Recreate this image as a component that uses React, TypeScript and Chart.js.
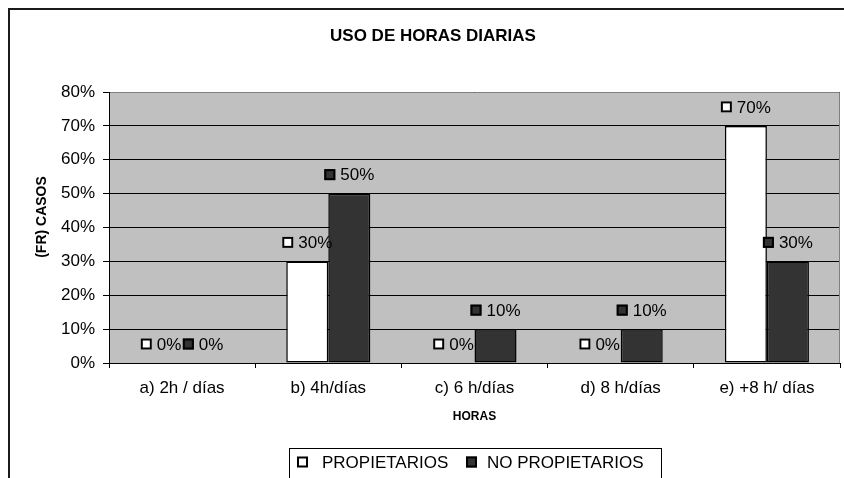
import React, { useEffect, useRef } from "react";
import { Chart, registerables } from "chart.js";

Chart.register(...registerables);

const categories = ["a) 2h / días", "b) 4h/días", "c) 6 h/días", "d) 8 h/días", "e) +8 h/ días"];
const propietarios = [0, 30, 0, 0, 70];
const noPropietarios = [0, 50, 10, 10, 30];
const seriesNames = ["PROPIETARIOS", "NO PROPIETARIOS"];
const seriesColors = ["#FFFFFF", "#333333"];
const yTicks = [0, 10, 20, 30, 40, 50, 60, 70, 80];
const titleText = "USO DE HORAS DIARIAS";
const yTitle = "(FR) CASOS";
const xTitle = "HORAS";

const FONT = "'Liberation Sans', Arial, sans-serif";

function drawKey(ctx: CanvasRenderingContext2D, x: number, yc: number, color: string) {
  ctx.save();
  ctx.fillStyle = color;
  ctx.fillRect(x, yc - 5.5, 11, 11);
  ctx.strokeStyle = "#000";
  ctx.lineWidth = 2;
  ctx.strokeRect(x + 1, yc - 4.5, 9, 9);
  ctx.restore();
}

const decorPlugin = {
  id: "decor",
  beforeDraw(chart: any) {
    const { ctx, chartArea } = chart;
    ctx.save();
    ctx.fillStyle = "#fff";
    ctx.fillRect(0, 0, chart.width, chart.height);
    ctx.strokeStyle = "#1a1a1a";
    ctx.lineWidth = 2;
    ctx.strokeRect(9, 9, 900, 600);
    ctx.fillStyle = "#C0C0C0";
    ctx.fillRect(chartArea.left, chartArea.top, chartArea.right - chartArea.left, chartArea.bottom - chartArea.top);
    ctx.restore();
  },
  afterDatasetsDraw(chart: any) {
    const { ctx, chartArea } = chart;
    ctx.save();
    ctx.strokeStyle = "#808080";
    ctx.lineWidth = 1;
    ctx.beginPath();
    ctx.moveTo(chartArea.left + 1, Math.round(chartArea.top) + 0.5);
    ctx.lineTo(Math.round(chartArea.right) - 0.5, Math.round(chartArea.top) + 0.5);
    ctx.lineTo(Math.round(chartArea.right) - 0.5, chartArea.bottom);
    ctx.stroke();

    // data labels
    ctx.font = `17px ${FONT}`;
    ctx.textBaseline = "middle";
    ctx.textAlign = "left";
    ctx.fillStyle = "#000";
    chart.data.datasets.forEach((ds: any, di: number) => {
      const meta = chart.getDatasetMeta(di);
      meta.data.forEach((bar: any, i: number) => {
        const txt = `${ds.data[i]}%`;
        const tw = ctx.measureText(txt).width;
        const total = 11 + 5 + tw;
        const x0 = bar.x - total / 2;
        const yc = bar.y - 19;
        drawKey(ctx, x0, yc, seriesColors[di]);
        ctx.fillStyle = "#000";
        ctx.fillText(txt, x0 + 16, yc + 1);
      });
    });

    // title
    ctx.textAlign = "center";
    ctx.font = `bold 17px ${FONT}`;
    ctx.fillText(titleText, 433, 36);

    // x title
    ctx.font = `bold 12px ${FONT}`;
    ctx.fillText(xTitle, (chartArea.left + chartArea.right) / 2, 417);

    // y title
    ctx.save();
    ctx.translate(42, 217);
    ctx.rotate(-Math.PI / 2);
    ctx.font = `bold 14px ${FONT}`;
    ctx.fillText(yTitle, 0, 0);
    ctx.restore();

    // legend
    ctx.strokeStyle = "#000";
    ctx.lineWidth = 1;
    ctx.strokeRect(289.5, 448.5, 372, 40);
    ctx.font = `17px ${FONT}`;
    ctx.textAlign = "left";
    drawKey(ctx, 297, 462, seriesColors[0]);
    ctx.fillStyle = "#000";
    ctx.fillText(seriesNames[0], 322, 463);
    drawKey(ctx, 466, 462, seriesColors[1]);
    ctx.fillStyle = "#000";
    ctx.fillText(seriesNames[1], 487, 463);
    ctx.restore();
  },
};

export default function App() {
  const ref = useRef<HTMLCanvasElement>(null);
  useEffect(() => {
    if (!ref.current) return;
    const chart = new Chart(ref.current, {
      type: "bar",
      data: {
        labels: categories,
        datasets: [
          {
            label: seriesNames[0],
            data: propietarios,
            backgroundColor: seriesColors[0],
            borderColor: "#000",
            borderWidth: (c: any) => (c.raw === 0 ? 0 : 1.5),
            borderSkipped: false,
            categoryPercentage: 0.575,
            barPercentage: 1,
          },
          {
            label: seriesNames[1],
            data: noPropietarios,
            backgroundColor: seriesColors[1],
            borderColor: "#000",
            borderWidth: (c: any) => (c.raw === 0 ? 0 : 1.5),
            borderSkipped: false,
            categoryPercentage: 0.575,
            barPercentage: 1,
          },
        ],
      } as any,
      options: {
        responsive: false,
        animation: false,
        layout: { padding: { top: 92, right: 4, left: 0, bottom: 0 } },
        plugins: {
          legend: { display: false },
          title: { display: false },
          tooltip: { enabled: false },
        },
        scales: {
          x: {
            afterFit: (s: any) => {
              s.height = 115;
            },
            grid: {
              offset: true,
              drawOnChartArea: false,
              drawTicks: true,
              tickLength: 5,
              color: "#000",
            },
            border: { color: "#000", width: 1 },
            ticks: {
              color: "#000",
              font: { family: FONT, size: 17 },
              padding: 10,
              maxRotation: 0,
              autoSkip: false,
            },
          },
          y: {
            min: 0,
            max: 80,
            afterFit: (s: any) => {
              s.width = 109;
            },
            afterBuildTicks: (s: any) => {
              s.ticks = yTicks.map((v) => ({ value: v }));
            },
            grid: {
              color: "#000",
              lineWidth: 1,
              drawTicks: true,
              tickLength: 6,
            },
            border: { color: "#000", width: 1 },
            ticks: {
              color: "#000",
              font: { family: FONT, size: 17 },
              padding: 8,
              callback: (v: any) => `${v}%`,
            },
          },
        },
      } as any,
      plugins: [decorPlugin],
    });
    return () => chart.destroy();
  }, []);
  return (
    <div style={{ position: "fixed", left: 0, top: 0, width: 844, height: 478, background: "#fff" }}>
      <canvas ref={ref} width={844} height={478} style={{ width: 844, height: 478, display: "block" }} />
    </div>
  );
}
